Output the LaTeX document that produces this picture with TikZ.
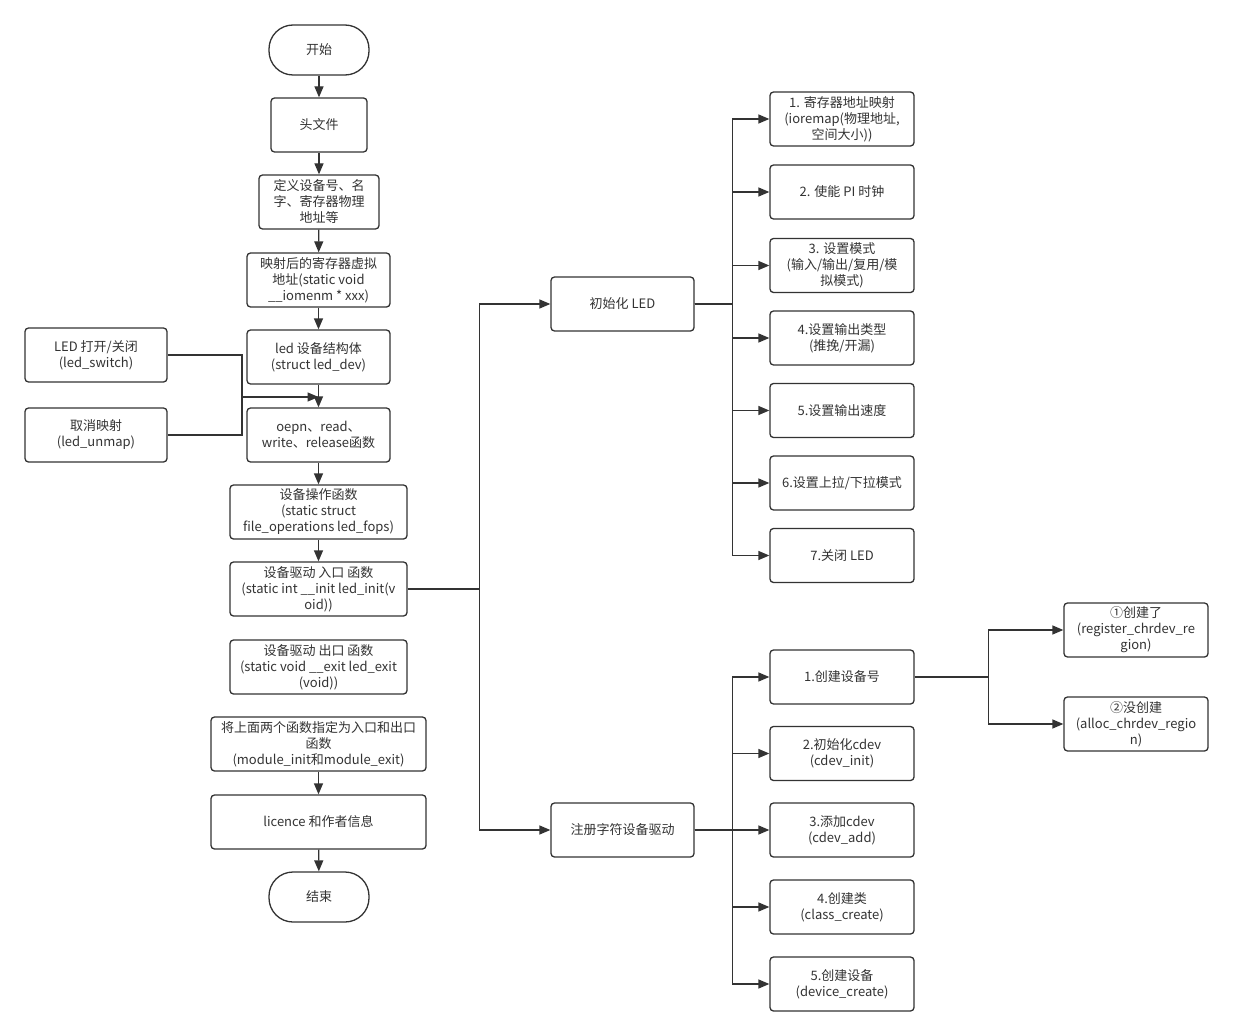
\documentclass[tikz,border=0pt]{standalone}
\usepackage{fontspec}
\setmainfont{Noto Sans CJK SC}
\usetikzlibrary{arrows.meta}
\definecolor{ln}{HTML}{333333}
\definecolor{tx}{HTML}{333333}
\begin{document}
\begin{tikzpicture}[x=1pt,y=-1pt,
  box/.style={draw=ln, line width=1.3pt, rounded corners=3.5pt, fill=white, text=tx,
    align=center, inner sep=1pt, font=\fontsize{13pt}{16pt}\selectfont},
  bw/.style={box, minimum width=#1, minimum height=54pt},
  term/.style={box, rounded corners=24pt, minimum width=100pt, minimum height=50pt},
  ln/.style={draw=ln, line width=1.3pt},
  arr/.style={ln, -{Triangle[length=11pt,width=9pt]}}]
\useasboundingbox (0,0) rectangle (1233,1035);
% main column
\node[term] (start) at (319,50) {开始};
\node[bw=96pt] (head) at (319,125) {头文件};
\node[bw=120pt] (def) at (319,202) {定义设备号、名\\字、寄存器物理\\地址等};
\node[bw=143pt] (map) at (318.5,280) {映射后的寄存器虚拟\\地址(static void\\\_\_iomenm * xxx)};
\node[bw=143pt] (strc) at (318.5,357) {led 设备结构体\\(struct led\_dev)};
\node[bw=143pt] (ops) at (318.5,435) {oepn、read、\\write、release函数};
\node[bw=177pt] (fops) at (318.5,512) {设备操作函数\\(static struct\\file\_operations led\_fops)};
\node[bw=177pt] (init) at (318.5,589) {设备驱动 入口 函数\\(static int \_\_init led\_init(v\\oid))};
\node[bw=177pt] (exit) at (318.5,667) {设备驱动 出口 函数\\(static void \_\_exit led\_exit\\(void))};
\node[bw=215pt] (mod) at (318.5,744) {将上面两个函数指定为入口和出口\\函数\\(module\_init和module\_exit)};
\node[bw=215pt] (lic) at (318.5,822) {licence 和作者信息};
\node[term] (end) at (319,897) {结束};
% left boxes
\node[bw=142pt] (ledsw) at (96,355) {LED 打开/关闭\\(led\_switch)};
\node[bw=142pt] (unmap) at (96,435) {取消映射\\(led\_unmap)};
% middle
\node[bw=143pt] (initled) at (622.5,304) {初始化 LED};
\node[bw=143pt] (reg) at (622.5,830) {注册字符设备驱动};
% column 1
\node[bw=144pt] (c1) at (842,119) {1. 寄存器地址映射\\(ioremap(物理地址,\\空间大小))};
\node[bw=144pt] (c2) at (842,192) {2. 使能 PI 时钟};
\node[bw=144pt] (c3) at (842,265.5) {3. 设置模式\\(输入/输出/复用/模\\拟模式)};
\node[bw=144pt] (c4) at (842,338) {4.设置输出类型\\(推挽/开漏)};
\node[bw=144pt] (c5) at (842,410.5) {5.设置输出速度};
\node[bw=144pt] (c6) at (842,483) {6.设置上拉/下拉模式};
\node[bw=144pt] (c7) at (842,555.5) {7.关闭 LED};
% column 2
\node[bw=144pt] (d1) at (842,677) {1.创建设备号};
\node[bw=144pt] (d2) at (842,753.5) {2.初始化cdev\\(cdev\_init)};
\node[bw=144pt] (d3) at (842,830) {3.添加cdev\\(cdev\_add)};
\node[bw=144pt] (d4) at (842,907) {4.创建类\\(class\_create)};
\node[bw=144pt] (d5) at (842,984) {5.创建设备\\(device\_create)};
% column 3
\node[bw=144pt] (e1) at (1136,630) {①创建了\\(register\_chrdev\_re\\gion)};
\node[bw=144pt] (e2) at (1136,724) {②没创建\\(alloc\_chrdev\_regio\\n)};
% main arrows
\draw[arr] (start) -- (head);
\draw[arr] (head) -- (def);
\draw[arr] (def) -- (map);
\draw[arr] (map) -- (strc);
\draw[arr] (strc) -- (ops);
\draw[arr] (ops) -- (fops);
\draw[arr] (fops) -- (init);
\draw[arr] (mod) -- (lic);
\draw[arr] (lic) -- (end);
% left connectors
\coordinate (jx) at (242,397);
\draw[ln] (ledsw.east) -| (jx);
\draw[ln] (unmap.east) -| (jx);
\draw[arr] (jx) -- (jx -| ops.north);
% right of init
\draw[arr] (init.east) -- ++(72,0) |- (initled.west);
\draw[arr] (init.east) -- ++(72,0) |- (reg.west);
% column 1
\foreach \c in {c1,c2,c3,c4,c5,c6,c7}
  \draw[arr] (initled.east) -- ++(38,0) |- (\c.west);
% column 2
\foreach \c in {d1,d2,d3,d4,d5}
  \draw[arr] (reg.east) -- ++(38,0) |- (\c.west);
% column 3
\draw[arr] (d1.east) -- ++(74,0) |- (e1.west);
\draw[arr] (d1.east) -- ++(74,0) |- (e2.west);
\end{tikzpicture}
\end{document}
